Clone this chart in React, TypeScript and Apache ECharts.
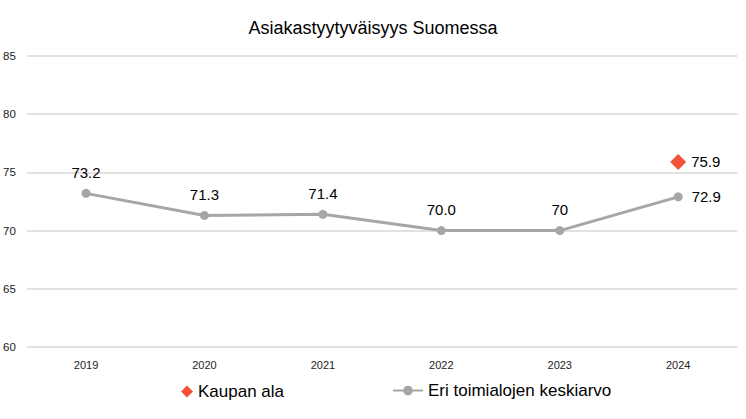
import { useEffect, useRef } from "react";
import * as echarts from "echarts";

const years = ["2019", "2020", "2021", "2022", "2023", "2024"];
const kaupanAla = [null, null, null, null, null, 75.9];
const keskiarvo = [73.2, 71.3, 71.4, 70.0, 70, 72.9];
const keskiarvoLabels = ["73.2", "71.3", "71.4", "70.0", "70", "72.9"];

const FONT = "'Liberation Sans', Arial, sans-serif";

const App = () => {
  const chartRef = useRef<HTMLDivElement>(null);

  useEffect(() => {
    if (!chartRef.current) return;
    const chart = echarts.init(chartRef.current, null, { renderer: "svg" });
    const last = keskiarvo.length - 1;
    const legendText = { fontFamily: FONT, fontSize: 17, color: "#000" };
    chart.setOption({
      animation: false,
      textStyle: { fontFamily: FONT },
      title: {
        text: "Asiakastyytyväisyys Suomessa",
        left: "center",
        top: 14,
        textStyle: { fontFamily: FONT, fontSize: 18, fontWeight: "normal", color: "#000" },
      },
      grid: { left: 24.6, right: 8.6, top: 56, bottom: 72 },
      legend: [
        {
          left: 176,
          top: 378,
          itemWidth: 12,
          itemHeight: 12,
          textStyle: legendText,
          data: [{ name: "Kaupan ala", icon: "diamond", itemStyle: { color: "#f4513a", opacity: 1 } }],
        },
        {
          left: 387,
          top: 377,
          itemWidth: 30,
          itemHeight: 12,
          textStyle: legendText,
          data: [{ name: "Eri toimialojen keskiarvo" }],
        },
      ],
      xAxis: {
        type: "category",
        data: years,
        axisLine: { show: false },
        axisTick: { show: false },
        axisLabel: { fontFamily: FONT, fontSize: 11, color: "#222", margin: 12 },
      },
      yAxis: {
        type: "value",
        min: 60,
        max: 85,
        interval: 5,
        axisLabel: { fontFamily: FONT, fontSize: 11.5, color: "#222", margin: 11 },
        splitLine: { lineStyle: { color: "#d9d9d9", width: 1.5 } },
      },
      series: [
        {
          name: "Kaupan ala",
          type: "scatter",
          data: kaupanAla,
          symbol: "diamond",
          symbolSize: 16,
          itemStyle: { color: "#f4513a", opacity: 1 },
          label: {
            show: true,
            position: "right",
            distance: 5,
            fontFamily: FONT,
            fontSize: 15,
            color: "#000",
          },
        },
        {
          name: "Eri toimialojen keskiarvo",
          type: "line",
          data: keskiarvo.map((v, i) =>
            i === last ? { value: v, label: { position: "right", distance: 9 } } : v
          ),
          symbol: "circle",
          symbolSize: 9,
          lineStyle: { color: "#a6a6a6", width: 3 },
          itemStyle: { color: "#a6a6a6" },
          label: {
            show: true,
            position: "top",
            distance: 9,
            fontFamily: FONT,
            fontSize: 15,
            color: "#000",
            formatter: (p: any) => keskiarvoLabels[p.dataIndex],
          },
        },
      ],
    });
    return () => chart.dispose();
  }, []);

  return (
    <div
      ref={chartRef}
      style={{ position: "absolute", left: 0, top: 0, width: 746, height: 419 }}
    />
  );
};

export default App;
